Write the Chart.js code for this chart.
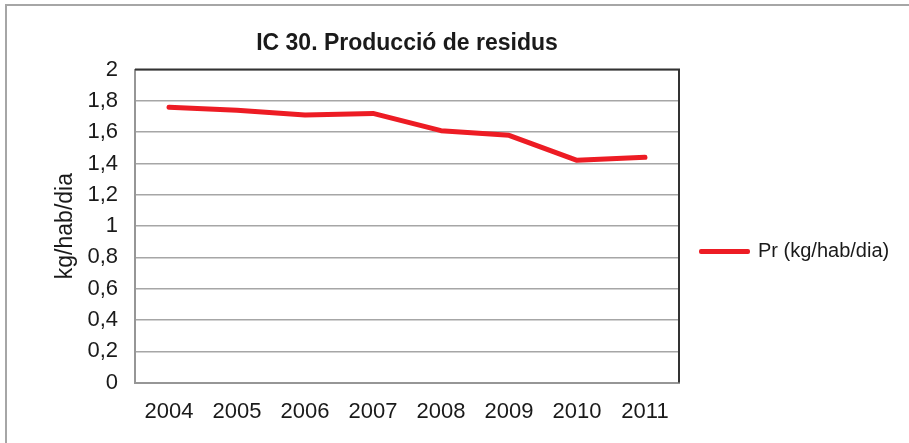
<!DOCTYPE html>
<html>
<head>
<meta charset="utf-8">
<script src="https://cdn.jsdelivr.net/npm/chart.js@4.4.0/dist/chart.umd.min.js"></script>
<style>
  body { margin: 0; background: #fff; }
  #frame { position: absolute; left: 5px; top: 4px; width: 1000px; height: 1000px;
           border-left: 2px solid #a6a6a6; border-top: 2px solid #a6a6a6; }
  #chart { position: absolute; left: 0; top: 0; }
</style>
</head>
<body>
<div id="frame"></div>
<canvas id="chart" width="909" height="443"></canvas>
<script>
'use strict';

// Data
var years = ['2004', '2005', '2006', '2007', '2008', '2009', '2010', '2011'];
var residus = [1.76, 1.74, 1.71, 1.72, 1.61, 1.58, 1.42, 1.44];
var seriesName = 'Pr (kg/hab/dia)';
var yTitle = 'kg/hab/dia';
var chartTitle = 'IC 30. Producció de residus';
var yMin = 0;
var yMax = 2;
var yStep = 0.2;

var fontFamily = '"Liberation Sans", Arial, sans-serif';

// draws the top and right edge of the plot area
var plotFrame = {
  id: 'plotFrame',
  afterDraw: function(chart) {
    var a = chart.chartArea;
    var ctx = chart.ctx;
    ctx.save();
    ctx.strokeStyle = '#333333';
    ctx.lineWidth = 2;
    ctx.beginPath();
    ctx.moveTo(a.left, a.top);
    ctx.lineTo(a.right, a.top);
    ctx.lineTo(a.right, a.bottom);
    ctx.stroke();
    ctx.restore();
  }
};

var ctx = document.getElementById('chart').getContext('2d');
var myChart = new Chart(ctx, { //eslint-disable-line
  type: 'line',
  data: {
    labels: years,
    datasets: [{
      label: seriesName,
      data: residus,
      borderColor: '#ed1c24',
      backgroundColor: '#ed1c24',
      borderWidth: 5,
      borderCapStyle: 'round',
      borderJoinStyle: 'round',
      pointRadius: 0,
      tension: 0
    }]
  },
  options: {
    responsive: false,
    animation: false,
    layout: { padding: { left: 52, top: 18, right: 21, bottom: 2 } },
    plugins: {
      title: {
        display: true,
        text: chartTitle,
        fullSize: false,
        color: '#1a1a1a',
        font: { family: fontFamily, size: 23, weight: 'bold' },
        padding: { top: 12, bottom: 12 }
      },
      legend: {
        position: 'right',
        align: 'center',
        title: { display: true, text: ' ', font: { size: 10 }, padding: 16 },
        labels: {
          color: '#1a1a1a',
          font: { family: fontFamily, size: 20 },
          boxWidth: 47,
          boxHeight: 1,
          padding: 22,
          generateLabels: function(chart) {
            var items = Chart.defaults.plugins.legend.labels.generateLabels(chart);
            items.forEach(function(it) { it.lineWidth = 4; it.strokeStyle = '#ed1c24'; });
            return items;
          }
        }
      },
      tooltip: { enabled: false }
    },
    scales: {
      x: {
        offset: true,
        grid: { display: false, drawTicks: false },
        border: { color: '#969696', width: 2 },
        ticks: {
          color: '#1a1a1a',
          font: { family: fontFamily, size: 22 },
          padding: 16
        }
      },
      y: {
        min: yMin,
        max: yMax,
        afterFit: function(scale) { scale.width = 83; },
        title: {
          display: true,
          text: yTitle,
          color: '#1a1a1a',
          font: { family: fontFamily, size: 23 },
          padding: 0
        },
        grid: { color: '#a6a6a6', lineWidth: 1.5, drawTicks: false },
        border: { color: '#969696', width: 2 },
        ticks: {
          stepSize: yStep,
          color: '#1a1a1a',
          font: { family: fontFamily, size: 22 },
          padding: 17,
          callback: function(value) {
            return (Math.round(value * 10) / 10).toString().replace('.', ',');
          }
        }
      }
    }
  },
  plugins: [plotFrame]
});
</script>
</body>
</html>
